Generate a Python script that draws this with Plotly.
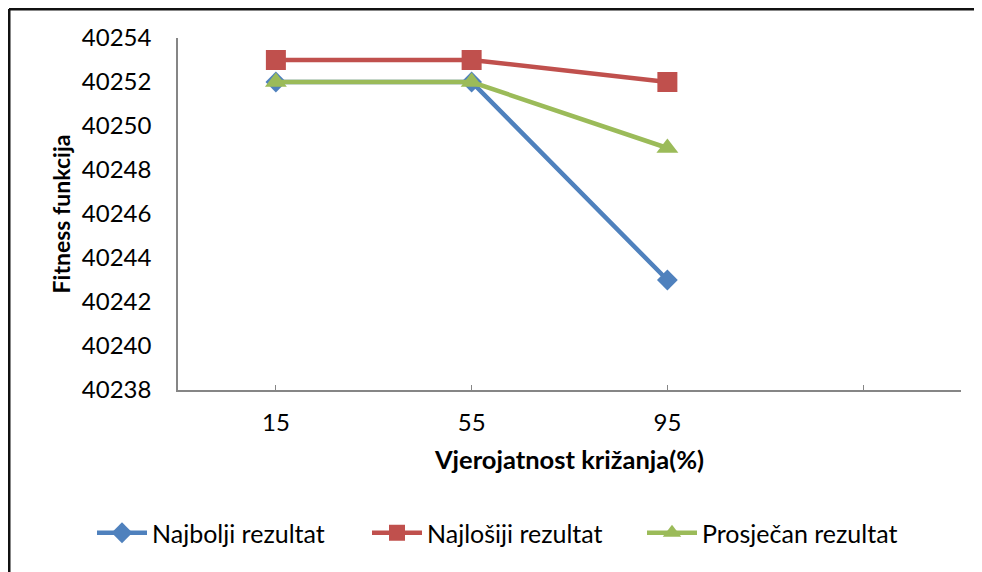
import plotly.graph_objects as go

categories = ["15", "55", "95"]
najbolji = [40252, 40252, 40243]
najlosiji = [40253, 40253, 40252]
prosjecan = [40252, 40252, 40249]
y_ticks = [40238, 40240, 40242, 40244, 40246, 40248, 40250, 40252, 40254]

xpos = list(range(len(categories)))

FONT = "Lato"
fig = go.Figure()
series = [
    ("Najbolji rezultat", najbolji, "#4F81BD", "diamond", 16),
    ("Najlošiji rezultat", najlosiji, "#C0504D", "square", 20),
    ("Prosječan rezultat", prosjecan, "#9BBB59", "triangle-up", 19),
]
for name, vals, col, sym, sz in series:
    fig.add_trace(go.Scatter(
        x=xpos, y=vals, name=name, mode="lines+markers",
        line=dict(color=col, width=4.5),
        marker=dict(symbol=sym, size=sz, color=col),
    ))

OFF = 8  # page offset of the figure in the browser
W, H = 982 - OFF, 572 - OFF
L, R, T, B = 178 - OFF, 982 - 961, 38 - OFF, 572 - 390
pw, ph = W - L - R, H - T - B

def px_x(p):
    return (p - OFF - L) / pw

def px_y(p):
    return (H - B - (p - OFF)) / ph

fig.update_layout(
    width=W, height=H,
    margin=dict(l=L, r=R, t=T, b=B),
    paper_bgcolor="white", plot_bgcolor="white",
    font=dict(family=FONT, color="#000000"),
    showlegend=True,
    legend=dict(
        orientation="h", x=px_x(92), xanchor="left", y=px_y(533), yanchor="middle",
        font=dict(size=25, family=FONT), itemwidth=50,
        entrywidth=210, entrywidthmode="pixels",
        bgcolor="rgba(0,0,0,0)",
    ),
    xaxis=dict(
        range=[-0.5, 3.5],
        tickmode="array",
        tickvals=xpos + [3, 3.5],
        ticktext=categories + ["", ""],
        ticks="inside", ticklen=5, tickcolor="#868686",
        showline=True, linecolor="#868686", linewidth=1.5,
        showgrid=False, zeroline=False,
        tickfont=dict(size=24, family=FONT),
        ticklabelstandoff=10,
        title=dict(text="<b>Vjerojatnost križanja(%)</b>", font=dict(size=25.5, family=FONT), standoff=17),
    ),
    yaxis=dict(
        range=[40238, 40254],
        tickmode="array", tickvals=y_ticks,
        ticktext=[str(v) for v in y_ticks],
        ticks="", showline=True, linecolor="#868686", linewidth=1.5,
        showgrid=False, zeroline=False,
        tickfont=dict(size=24, family=FONT),
        ticklabelstandoff=20,
        title=dict(text="<b>Fitness funkcija</b>", font=dict(size=23, family=FONT), standoff=5),
    ),
)

# outer frame (top and left edges visible in the reference)
fig.add_shape(type="line", xref="paper", yref="paper",
              x0=px_x(9), x1=px_x(990), y0=px_y(9), y1=px_y(9),
              line=dict(color="#111111", width=3))
fig.add_shape(type="line", xref="paper", yref="paper",
              x0=px_x(9), x1=px_x(9), y0=px_y(9), y1=px_y(580),
              line=dict(color="#111111", width=3))

fig.write_html("out.html")
